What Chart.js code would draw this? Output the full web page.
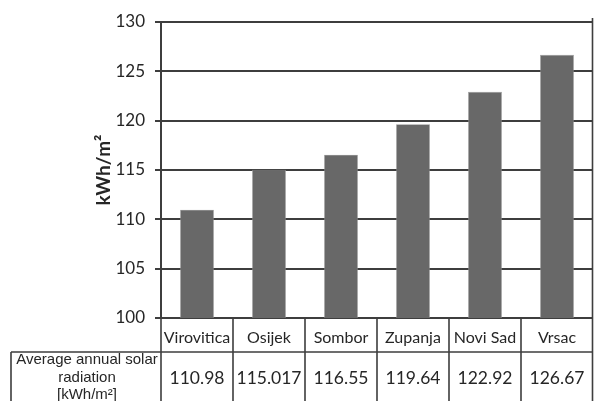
<!DOCTYPE html>
<html>
<head>
<meta charset="utf-8">
<script src="https://cdn.jsdelivr.net/npm/chart.js@4/dist/chart.umd.min.js"></script>
<style>
  body { margin: 0; background: #fff; }
  #wrap { width: 594px; height: 401px; }
</style>
</head>
<body>
<div id="wrap"><canvas id="chart" width="594" height="401"></canvas></div>
<script>
// values
var categories = ['Virovitica', 'Osijek', 'Sombor', 'Zupanja', 'Novi Sad', 'Vrsac'];
var radiation = [110.98, 115.017, 116.55, 119.64, 122.92, 126.67];
var valueLabels = ['110.98', '115.017', '116.55', '119.64', '122.92', '126.67'];
var rowTitle = ['Average annual solar', 'radiation', '[kWh/m\u00b2]'];
var yMin = 100, yMax = 130, yStep = 5;

var lineColor = '#3e3e3e';
var textColor = '#262626';

// draws the data table under the plot
var tablePlugin = {
    id: 'dataTable',
    afterDraw: function (chart) {
        var ctx = chart.ctx;
        var area = chart.chartArea;
        var xs = chart.scales.x;
        var half = (xs.getPixelForValue(1) - xs.getPixelForValue(0)) / 2;
        var bottom = chart.height;
        var rowSplit = area.bottom + 34;
        var cellLeft = 11;

        ctx.save();
        ctx.strokeStyle = lineColor;
        ctx.lineWidth = 1.6;
        ctx.beginPath();
        // right border of the plot
        ctx.moveTo(area.right - 0.5, area.top - 4);
        ctx.lineTo(area.right - 0.5, bottom);
        // column separators
        for (var i = 0; i < categories.length; i++) {
            var bx = xs.getPixelForValue(i) - half;
            ctx.moveTo(bx, area.bottom);
            ctx.lineTo(bx, bottom);
        }
        // row split and row title cell
        ctx.moveTo(cellLeft, rowSplit);
        ctx.lineTo(area.right, rowSplit);
        ctx.moveTo(cellLeft, rowSplit);
        ctx.lineTo(cellLeft, bottom);
        ctx.stroke();

        ctx.fillStyle = textColor;
        ctx.textAlign = 'center';
        ctx.textBaseline = 'middle';
        var midY = (rowSplit + bottom) / 2 + 1.5;
        ctx.font = '17.5px Lato';
        for (var j = 0; j < valueLabels.length; j++) {
            ctx.fillText(valueLabels[j], xs.getPixelForValue(j), midY);
        }
        ctx.font = '15px "Liberation Sans"';
        var cx = (cellLeft + area.left) / 2 + 1;
        for (var k = 0; k < rowTitle.length; k++) {
            ctx.fillText(rowTitle[k], cx, midY - 0.5 + (k - 1) * 17.5);
        }
        ctx.restore();
    }
};

window.onload = function () {
    var ctx = document.getElementById('chart').getContext('2d');
    new Chart(ctx, {
        type: 'bar',
        data: {
            labels: categories,
            datasets: [{
                data: radiation,
                backgroundColor: '#686868',
                borderColor: '#9a9a9a',
                borderWidth: 0.6,
                barPercentage: 0.47,
                categoryPercentage: 1
            }]
        },
        options: {
            responsive: false,
            animation: false,
            layout: { padding: { top: 22, right: 1, left: 0, bottom: 0 } },
            plugins: {
                legend: { display: false },
                tooltip: { enabled: false }
            },
            scales: {
                x: {
                    grid: { display: false, drawTicks: false },
                    border: { display: false },
                    ticks: {
                        color: textColor,
                        font: { family: 'Lato', size: 16 },
                        padding: 10,
                        maxRotation: 0
                    },
                    afterFit: function (scale) { scale.height = 83; }
                },
                y: {
                    min: yMin,
                    max: yMax,
                    ticks: {
                        stepSize: yStep,
                        color: textColor,
                        font: { family: 'Lato', size: 17 },
                        padding: 10
                    },
                    grid: { color: lineColor, lineWidth: 2, tickLength: 6 },
                    border: { color: lineColor, width: 2 },
                    title: {
                        display: true,
                        text: 'kWh/m\u00b2',
                        color: textColor,
                        font: { family: 'Lato', size: 19, weight: 'bold' },
                        padding: { top: 92, bottom: 0 }
                    },
                    afterFit: function (scale) { scale.width = 161; }
                }
            }
        },
        plugins: [tablePlugin]
    });
};
</script>
</body>
</html>
